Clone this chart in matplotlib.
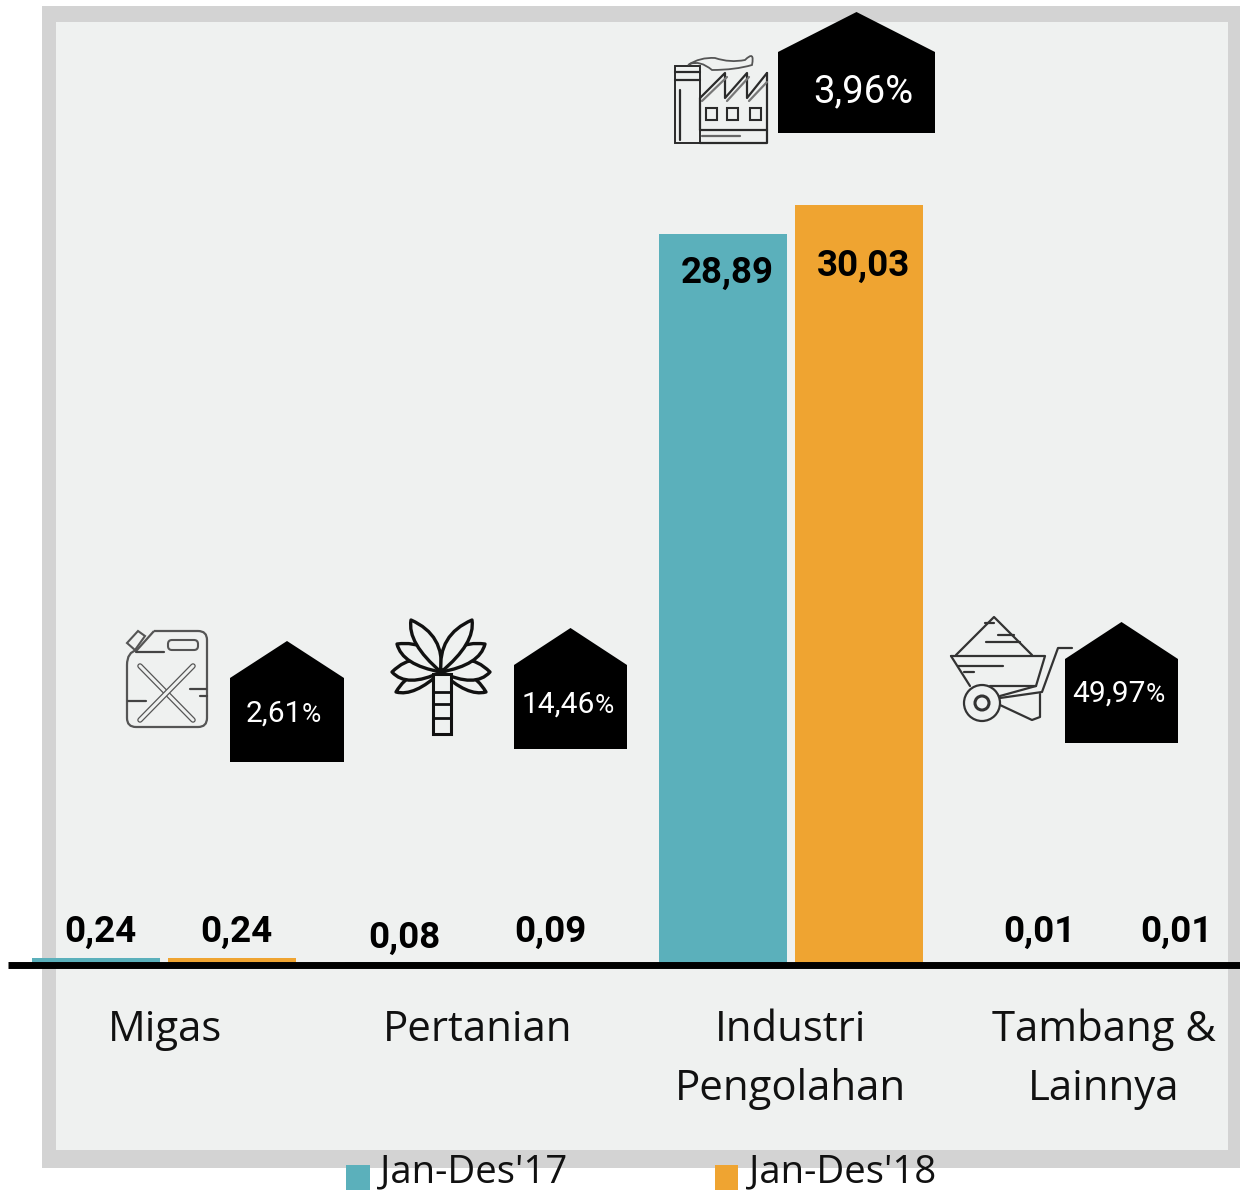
import matplotlib
matplotlib.use('Agg')
import matplotlib.pyplot as plt
from matplotlib.patches import Rectangle, Polygon, Circle, PathPatch, FancyBboxPatch
from matplotlib.path import Path
import numpy as np

categories = ['Migas', 'Pertanian', 'Industri\nPengolahan', 'Tambang &\nLainnya']
series_names = ["Jan-Des'17", "Jan-Des'18"]
values_17 = [0.24, 0.08, 28.89, 0.01]
values_18 = [0.24, 0.09, 30.03, 0.01]
growth = ['2,61', '14,46', '3,96', '49,97']

TEAL = '#5BB0BB'
ORANGE = '#EFA431'
BG = '#EFF1F0'
FRAME = '#D3D3D3'
NARROW = ['Roboto', 'DejaVu Sans']
OPEN = ['Open Sans', 'DejaVu Sans']
W, H = 1240, 1192
BASE = 964
PX_PER_UNIT = 25.27
CAT_X0, CAT_DX = 164, 313.33

fig = plt.figure(figsize=(W/100, H/100), dpi=100, facecolor='white')

# pixel-space background
bg = fig.add_axes([0, 0, 1, 1], zorder=0)
bg.set_xlim(0, W); bg.set_ylim(H, 0); bg.axis('off')
bg.add_patch(Rectangle((42, 6), W-42, 1162, fc=FRAME, ec='none'))
bg.add_patch(Rectangle((56, 22), 1228-56, 1128, fc=BG, ec='none'))

# data axes
ax = fig.add_axes([0, 0, 1, 1], zorder=1)
ax.patch.set_alpha(0)
ax.set_xlim(-CAT_X0/CAT_DX, (W-CAT_X0)/CAT_DX)
ax.set_ylim(-(H-BASE)/PX_PER_UNIT, BASE/PX_PER_UNIT)
ax.axis('off')
x = np.arange(len(categories))
off = 68/CAT_DX
bw = 128/CAT_DX
b1 = ax.bar(x-off, values_17, bw, color=TEAL, label=series_names[0])
b2 = ax.bar(x+off, values_18, bw, color=ORANGE, label=series_names[1])

# overlay
ov = fig.add_axes([0, 0, 1, 1], zorder=2)
ov.patch.set_alpha(0)
ov.set_xlim(0, W); ov.set_ylim(H, 0); ov.axis('off')
ov.plot([8, W], [965, 965], color='black', lw=5, solid_capstyle='butt')

# value labels
lab_pos_17 = [(100, 932), (404, 938), (727, 273), (1039, 932)]
lab_pos_18 = [(236, 932), (550, 932), (863, 266), (1176, 932)]
for vals, poss in ((values_17, lab_pos_17), (values_18, lab_pos_18)):
    for v, (px, py) in zip(vals, poss):
        ov.text(px, py, f'{v:.2f}'.replace('.', ','), ha='center', va='center',
                family=NARROW, weight='bold', fontsize=26.5, color='black')

# category labels
for i, c in enumerate(categories):
    cx = 164 + i*313
    for j, part in enumerate(c.split('\n')):
        ov.text(cx + 0.5, 1030 + j*59, part, ha='center', va='center', family=OPEN,
                fontsize=30.2, color='#111111')

# growth pentagons
pents = [(230, 344, 641, 678, 762), (514, 627, 628, 665, 749),
         (778, 935, 12, 52, 133), (1065, 1178, 622, 659, 743)]
for (l, r, top, sh, bot) in pents:
    ov.add_patch(Polygon([(l, bot), (l, sh), ((l+r)/2, top), (r, sh), (r, bot)],
                         closed=True, fc='black', ec='none'))
ov.text(863, 92, growth[2]+'%', ha='center', va='center', color='white', family=NARROW, fontsize=27.5)
for g, sx, sy in ((growth[0], 302, 714), (growth[1], 595, 705), (growth[3], 1146, 694)):
    ov.text(sx, sy, g, ha='right', va='center', color='white', family=NARROW, fontsize=21.5)
    ov.text(sx, sy+1, '%', ha='left', va='center', color='white', family=NARROW, fontsize=19)

# icons
IC = '#2a2a2a'
def ln(pts, lw=1.6, c=IC):
    p = np.array(pts)
    ov.plot(p[:, 0], p[:, 1], color=c, lw=lw, solid_capstyle='round', solid_joinstyle='round')

# factory
ov.add_patch(Rectangle((675, 66), 25, 77, fc='none', ec=IC, lw=1.4))
ln([(675, 72), (700, 72)]); ln([(675, 80), (700, 80)])
ln([(680, 90), (680, 140)])
ln([(700, 143), (767, 143), (767, 73)]); ln([(700, 130), (767, 130)]); ln([(702, 136), (740, 136)], c='#666666')
ln([(700, 98), (725, 73), (725, 98), (747, 73), (747, 98), (767, 73)])
ln([(702, 101), (727, 77)], c='#777777'); ln([(727, 101), (749, 77)], c='#777777'); ln([(749, 101), (767, 82)], c='#777777')
ln([(700, 98), (700, 130)])
for wx in (706, 727, 750):
    ov.add_patch(Rectangle((wx, 108), 11, 12, fc='none', ec=IC, lw=1.5))
s = Path([(688, 65), (700, 57), (715, 58), (730, 63), (745, 60), (755, 50), (752, 65), (735, 70),
          (712, 70), (700, 60), (690, 64)],
         [Path.MOVETO, Path.CURVE3, Path.CURVE3, Path.CURVE3, Path.CURVE3, Path.CURVE3, Path.CURVE3,
          Path.CURVE3, Path.CURVE3, Path.CURVE3, Path.CURVE3])
ov.add_patch(PathPatch(s, fc='none', ec='#555555', lw=1.3))

# jerry can
ov.add_patch(PathPatch(Path([(154, 631), (198, 631), (207, 631), (207, 640), (207, 718), (207, 727), (198, 727),
                             (136, 727), (127, 727), (127, 718), (127, 665), (127, 652), (137, 650), (154, 631)],
                            [1, 2, 3, 3, 2, 3, 3, 2, 3, 3, 2, 3, 3, 2]), fc='none', ec='#555555', lw=1.6))
ov.add_patch(FancyBboxPatch((168, 640), 30, 10, boxstyle='round,pad=0,rounding_size=4', fc='none', ec='#555555', lw=1.5))
ov.add_patch(Polygon([(127, 643), (138, 631), (145, 636), (135, 650)], closed=True, fc='none', ec='#555555', lw=1.5))
ln([(136, 652), (164, 652)], c='#444444')
for a, b in (((140, 666), (193, 720)), ((193, 666), (140, 720))):
    ln([a, b], lw=4.0, c='#555555'); ln([a, b], lw=2.2, c=BG)
ln([(190, 689), (206, 689)], c='#444444'); ln([(128, 701), (146, 701)], c='#444444'); ln([(200, 696), (207, 696)], c='#444444')

# palm
def leaf(base, tip, bulge):
    b, t = np.array(base, float), np.array(tip, float)
    d = t-b; n = np.array([-d[1], d[0]])/np.hypot(*d)
    c1 = b+0.5*d+n*bulge*1.1; c2 = b+0.7*d-n*bulge*0.75
    v = [tuple(b), tuple(c1), tuple(t), tuple(c2), tuple(b)]
    ov.add_patch(PathPatch(Path(v, [1, 3, 3, 3, 3]), fc=BG, ec='#111111', lw=2.4, joinstyle='round'))
cx, cy = 441, 672
for tip, bu in (((396, 692), 16), ((486, 692), -16), ((392, 672), 22), ((490, 672), -22),
                ((397, 644), 20), ((485, 644), -20), ((411, 620), 20), ((472, 620), -20)):
    leaf((cx, cy), tip, bu)
ov.add_patch(Rectangle((433, 674), 18, 60, fc=BG, ec='#111111', lw=2.2))
for ry in (692, 704, 718):
    ln([(433, ry), (451, ry)], lw=2, c='#111111')

# wheelbarrow
WB = '#333333'
ln([(956, 655), (994, 617), (1032, 655)], c=WB)
ln([(951, 656), (1045, 656), (1036, 686), (1000, 696)], c=WB)
ln([(951, 656), (970, 686)], c=WB)
ln([(990, 686), (1036, 686)], c=WB)
for a, b in (((985, 623), (994, 623)), ((998, 635), (1014, 635)), ((986, 642), (1020, 642)),
             ((958, 666), (1003, 666)), ((964, 672), (974, 672))):
    ln([a, b], c=WB)
ln([(1000, 698), (1042, 692), (1058, 648), (1072, 648)], c=WB)
ov.add_patch(Circle((982, 703), 18, fc='none', ec=WB, lw=1.6))
ov.add_patch(Circle((982, 703), 7, fc='none', ec=WB, lw=2.2))
ln([(1000, 705), (1032, 720), (1040, 717), (1040, 694)], c=WB)

# legend
leg = ov.legend(handles=[b1, b2], labels=series_names, loc='lower left',
                bbox_to_anchor=(346/W, 0.5/H), bbox_transform=fig.transFigure, ncol=2, frameon=False,
                handlelength=0.62, handleheight=0.62, handletextpad=0.28, columnspacing=3.85,
                borderpad=0, borderaxespad=0, prop={'family': OPEN, 'size': 27.5}, labelcolor='#111111')
for h in leg.legend_handles:
    h.set_y(h.get_y() - 6)

fig.savefig('out.png', dpi=100, facecolor='white')
